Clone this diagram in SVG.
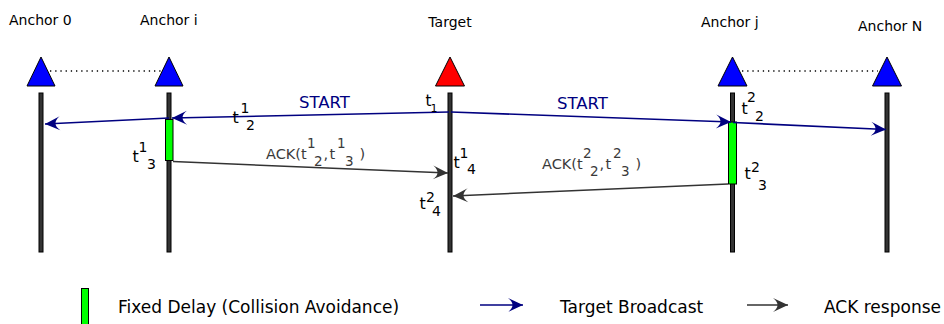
<svg xmlns="http://www.w3.org/2000/svg" width="944" height="324" viewBox="0 0 944 324">
<style>
text{font-family:"DejaVu Sans","Liberation Sans",sans-serif;}
.lbl{font-size:14px;fill:#000;}
.tri{stroke:#000;stroke-width:1;}
.life{fill:#333;stroke:#000;stroke-width:1;}
.delay{fill:#00ff00;stroke:#000;stroke-width:1;}
.bc{fill:none;stroke:#000080;stroke-width:1.6;}
.ack{fill:none;stroke:#333;stroke-width:1.5;}
.dot{stroke:#000;stroke-width:1.3;stroke-dasharray:1.3 3.9;}
.start{font-size:16.5px;fill:#000080;}
.t{font-size:16px;fill:#000;}
.d{font-size:14px;fill:#000;}
.ackt{font-size:14.5px;fill:#3a3a3a;}
.ackd{font-size:13.5px;fill:#3a3a3a;}
.leg{font-size:17px;fill:#000;}
</style>
<defs>
<marker id="ab" markerUnits="userSpaceOnUse" markerWidth="16" markerHeight="14" refX="15" refY="7" orient="auto" overflow="visible">
<path d="M15,7 L0,0 Q9,7 0,14 Z" fill="#000080"/>
</marker>
<marker id="ag" markerUnits="userSpaceOnUse" markerWidth="16" markerHeight="14" refX="15" refY="7" orient="auto" overflow="visible">
<path d="M15,7 L0,0 Q9,7 0,14 Z" fill="#333"/>
</marker>
</defs>
<rect width="944" height="324" fill="#fff"/>
<g id="dotted">
<line class="dot" x1="50" y1="71" x2="162" y2="71"/>
<line class="dot" x1="742" y1="71" x2="878" y2="71"/>
</g>
<g id="anchor0">
<text class="lbl" x="9" y="25">Anchor 0</text>
<path class="tri" d="M41,57 L55,86 L27,86 Z" fill="#0000ff"/>
<rect class="life" x="39" y="93" width="4" height="159"/>
</g>
<g id="anchorI">
<text class="lbl" x="140" y="25">Anchor i</text>
<path class="tri" d="M169,57 L183,86 L155,86 Z" fill="#0000ff"/>
<rect class="life" x="167" y="93" width="4" height="159"/>
<rect class="delay" x="165.5" y="119.5" width="7.5" height="41"/>
</g>
<g id="target">
<text class="lbl" x="450" y="27" text-anchor="middle">Target</text>
<path class="tri" d="M450,57 L464.5,86 L435.5,86 Z" fill="#ff0000"/>
<rect class="life" x="448" y="93" width="4" height="159"/>
</g>
<g id="anchorJ">
<text class="lbl" x="701" y="27">Anchor j</text>
<path class="tri" d="M732.5,57 L747,86 L718,86 Z" fill="#0000ff"/>
<rect class="life" x="730.5" y="93" width="4" height="159"/>
<rect class="delay" x="728.5" y="122" width="8" height="62"/>
</g>
<g id="anchorN">
<text class="lbl" x="858" y="31">Anchor N</text>
<path class="tri" d="M887,57 L901.5,86 L872.5,86 Z" fill="#0000ff"/>
<rect class="life" x="885" y="93" width="4" height="159"/>
</g>
<g id="connectors">
<path class="bc" d="M449,112 L172,118" marker-end="url(#ab)"/>
<path class="bc" d="M169,118 L45,124" marker-end="url(#ab)"/>
<path class="bc" d="M451,112 L731,122" marker-end="url(#ab)"/>
<path class="bc" d="M733,122.5 L886,129.5" marker-end="url(#ab)"/>
<path class="ack" d="M173,161.5 L448,173" marker-end="url(#ag)"/>
<path class="ack" d="M728,184 L453,196" marker-end="url(#ag)"/>
<text class="start" x="299" y="108">START</text>
<text class="start" x="557" y="109">START</text>
<text class="ackt" x="266" y="159">ACK(t</text>
<text class="ackd" x="307" y="148">1</text>
<text class="ackd" x="314" y="166">2</text>
<text class="ackt" x="323.5" y="159">,</text>
<text class="ackt" x="329.5" y="159">t</text>
<text class="ackd" x="337" y="148">1</text>
<text class="ackd" x="345" y="166">3</text>
<text class="ackt" x="359.5" y="159">)</text>
<text class="ackt" x="542" y="169">ACK(t</text>
<text class="ackd" x="583" y="158">2</text>
<text class="ackd" x="590" y="176">2</text>
<text class="ackt" x="599.5" y="169">,</text>
<text class="ackt" x="605.5" y="169">t</text>
<text class="ackd" x="613" y="158">2</text>
<text class="ackd" x="621" y="176">3</text>
<text class="ackt" x="635.5" y="169">)</text>
</g>
<g id="timestamps">
<text class="t" x="425.5" y="106" style="font-size:15px">t</text>
<text class="d" x="430.5" y="112" style="font-size:11px">1</text>
<text class="t" x="232.5" y="123">t</text>
<text class="d" x="240.5" y="113">1</text>
<text class="d" x="246" y="130">2</text>
<text class="t" x="132.5" y="162">t</text>
<text class="d" x="138.5" y="152">1</text>
<text class="d" x="147" y="169">3</text>
<text class="t" x="453.5" y="168">t</text>
<text class="d" x="459.5" y="158">1</text>
<text class="d" x="467" y="174">4</text>
<text class="t" x="419.5" y="209">t</text>
<text class="d" x="426" y="202">2</text>
<text class="d" x="432" y="216">4</text>
<text class="t" x="741.5" y="113.5">t</text>
<text class="d" x="747" y="102">2</text>
<text class="d" x="755" y="121">2</text>
<text class="t" x="744.5" y="179">t</text>
<text class="d" x="751" y="172">2</text>
<text class="d" x="758" y="190">3</text>
</g>
<g id="legend">
<rect class="delay" x="81.5" y="288.5" width="7" height="40"/>
<text class="leg" x="118" y="313">Fixed Delay (Collision Avoidance)</text>
<path class="bc" d="M480,305 L523,305" marker-end="url(#ab)"/>
<text class="leg" x="560" y="313">Target Broadcast</text>
<path class="ack" d="M747,305 L788,305" marker-end="url(#ag)"/>
<text class="leg" x="824" y="313">ACK response</text>
</g>
</svg>
